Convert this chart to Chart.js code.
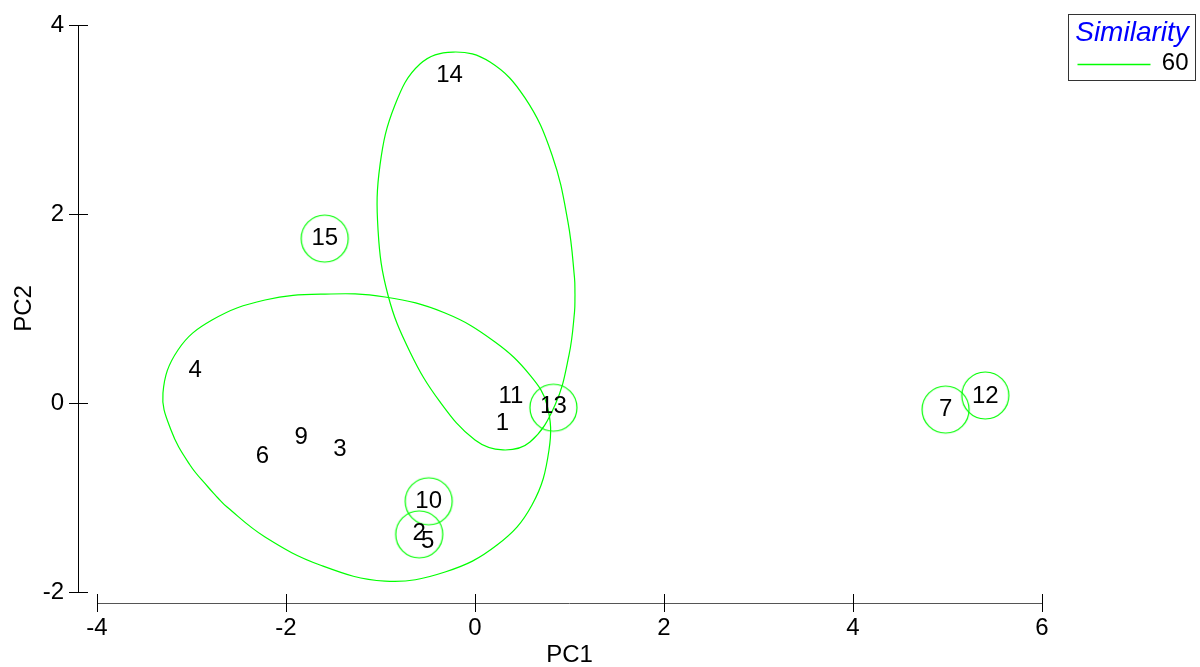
<!DOCTYPE html>
<html>
<head>
<meta charset="utf-8">
<title>PCA - Similarity 60</title>
<script src="https://cdn.jsdelivr.net/npm/chart.js@4.4.1/dist/chart.umd.min.js"></script>
<style>
  html, body { margin: 0; padding: 0; background: #fff; }
  #wrap { width: 1200px; height: 667px; }
</style>
</head>
<body>
<div id="wrap"><canvas id="pca" width="1200" height="667"></canvas></div>
<script>
// Sample scores (labels are drawn centred on the point, no marker)
const sampleLabels = ['1', '2', '3', '4', '5', '6', '7', '9', '10', '11', '12', '13', '14', '15'];
const pc1 = [0.29, -0.59, -1.43, -2.96, -0.50, -2.25, 4.98, -1.84, -0.49, 0.38, 5.40, 0.83, -0.27, -1.59];
const pc2 = [-0.22, -1.38, -0.49, 0.34, -1.46, -0.57, -0.07, -0.36, -1.04, 0.07, 0.07, -0.04, 3.47, 1.74];

// single-sample / small clusters at similarity 60 (drawn as circles)
const circleX = [-1.59, -0.49, -0.59, 0.83, 4.98, 5.40];
const circleY = [1.74, -1.04, -1.39, -0.05, -0.07, 0.08];

// larger cluster outlines (closed: last point = first)
const contourAx = [1.058, 1.053, 0.995, 0.847, 0.582, 0.296, 0.000, -0.370, -0.688, -0.921, -1.026, -1.005, -0.847, -0.582, -0.233, 0.159, 0.529, 0.815, 0.984, 1.053, 1.058];
const contourAy = [1.143, 0.963, 0.508, -0.021, -0.413, -0.497, -0.392, 0.011, 0.540, 1.143, 1.831, 2.519, 3.153, 3.587, 3.714, 3.608, 3.228, 2.624, 1.915, 1.323, 1.143];
const contourBx = [-2.730, -2.624, -2.222, -1.640, -0.952, -0.317, 0.233, 0.603, 0.783, 0.762, 0.582, 0.212, -0.317, -0.952, -1.587, -2.222, -2.783, -3.143, -3.302, -3.217, -3.016, -2.825, -2.730];
const contourBy = [-0.995, -1.101, -1.418, -1.714, -1.884, -1.788, -1.503, -1.079, -0.497, -0.021, 0.296, 0.646, 0.952, 1.122, 1.153, 1.090, 0.878, 0.561, 0.106, -0.286, -0.656, -0.889, -0.995];

const xTicks = [-4, -2, 0, 2, 4, 6];
const yTicks = [-2, 0, 2, 4];
const legendTitle = 'Similarity';
const legendLevel = '60';

const GREEN = '#00ff00';
const FONT = '"Liberation Sans", Arial, sans-serif';

const zip = (xs, ys) => xs.map((v, i) => ({ x: v, y: ys[i] }));

// ring used as point style, so a big radius doesn't eat layout space
function ringImage(r, color, lw) {
    const c = document.createElement('canvas');
    const s = Math.ceil(2 * r + lw + 2);
    c.width = s;
    c.height = s;
    const g = c.getContext('2d');
    g.strokeStyle = color;
    g.lineWidth = lw;
    g.beginPath();
    g.arc(s / 2, s / 2, r, 0, Math.PI * 2);
    g.stroke();
    return c;
}

// axes are drawn detached from the plot area, like the original
const detachedAxes = {
    id: 'detachedAxes',
    afterDraw(chart) {
        const { ctx, chartArea, scales: { x, y } } = chart;
        ctx.save();
        ctx.lineWidth = 1;

        // y axis
        const ax = chartArea.left - 19 + 0.5;
        ctx.strokeStyle = '#000';
        ctx.beginPath();
        ctx.moveTo(ax, Math.round(y.getPixelForValue(yTicks[yTicks.length - 1])));
        ctx.lineTo(ax, Math.round(y.getPixelForValue(yTicks[0])) + 1);
        yTicks.forEach(v => {
            const py = Math.round(y.getPixelForValue(v)) + 0.5;
            ctx.moveTo(chartArea.left - 28, py);
            ctx.lineTo(chartArea.left - 9, py);
        });
        ctx.stroke();

        // x axis
        const ay = chartArea.bottom + 11 + 0.5;
        ctx.strokeStyle = '#555';
        ctx.beginPath();
        ctx.moveTo(Math.round(x.getPixelForValue(xTicks[0])), ay);
        ctx.lineTo(Math.round(x.getPixelForValue(xTicks[xTicks.length - 1])), ay);
        ctx.stroke();
        ctx.strokeStyle = '#000';
        ctx.beginPath();
        xTicks.forEach(v => {
            const px = Math.round(x.getPixelForValue(v)) + 0.5;
            ctx.moveTo(px, chartArea.bottom + 2);
            ctx.lineTo(px, chartArea.bottom + 20);
        });
        ctx.stroke();
        ctx.restore();
    }
};

// sample numbers written at each score
const sampleText = {
    id: 'sampleText',
    afterDatasetsDraw(chart) {
        const meta = chart.getDatasetMeta(3);
        const { ctx } = chart;
        ctx.save();
        ctx.font = '24px ' + FONT;
        ctx.fillStyle = '#000';
        ctx.textAlign = 'center';
        ctx.textBaseline = 'middle';
        meta.data.forEach((pt, i) => {
            ctx.fillText(sampleLabels[i], pt.x, pt.y);
        });
        ctx.restore();
    }
};

// boxed legend top right
const boxLegend = {
    id: 'boxLegend',
    afterDraw(chart) {
        const { ctx, width } = chart;
        const bx = width - 132 + 0.5, by = 14.5, bw = 127, bh = 66;
        ctx.save();
        ctx.strokeStyle = '#333';
        ctx.lineWidth = 1;
        ctx.strokeRect(bx, by, bw, bh);

        ctx.font = 'italic 28px ' + FONT;
        ctx.fillStyle = '#0000ff';
        ctx.textAlign = 'center';
        ctx.textBaseline = 'middle';
        ctx.fillText(legendTitle, bx + bw / 2, by + 19);

        ctx.strokeStyle = GREEN;
        ctx.lineWidth = 1.5;
        ctx.beginPath();
        ctx.moveTo(bx + 9, by + 50);
        ctx.lineTo(bx + 82, by + 50);
        ctx.stroke();

        ctx.font = '24px ' + FONT;
        ctx.fillStyle = '#000';
        ctx.textAlign = 'right';
        ctx.fillText(legendLevel, bx + bw - 7, by + 49);
        ctx.restore();
    }
};

const ctx = document.getElementById('pca').getContext('2d');

const pcaChart = new Chart(ctx, {
    type: 'scatter',
    data: {
        datasets: [
            {
                label: 'cluster A',
                data: zip(contourAx, contourAy),
                showLine: true,
                tension: 0.4,
                borderColor: GREEN,
                borderWidth: 1.2,
                pointRadius: 0,
                fill: false
            },
            {
                label: 'cluster B',
                data: zip(contourBx, contourBy),
                showLine: true,
                tension: 0.4,
                borderColor: GREEN,
                borderWidth: 1.2,
                pointRadius: 0,
                fill: false
            },
            {
                label: 'small clusters',
                data: zip(circleX, circleY),
                pointStyle: ringImage(23.5, GREEN, 1.2),
                pointRadius: 1,
                pointBorderWidth: 0
            },
            {
                label: 'samples',
                data: zip(pc1, pc2),
                pointRadius: 0
            }
        ]
    },
    options: {
        responsive: false,
        animation: false,
        events: [],
        layout: {
            padding: { top: 25, right: 158, left: 0, bottom: 0 }
        },
        plugins: {
            legend: { display: false },
            tooltip: { enabled: false }
        },
        scales: {
            x: {
                type: 'linear',
                min: -4,
                max: 6,
                afterBuildTicks: s => { s.ticks = xTicks.map(v => ({ value: v })); },
                afterFit: s => { s.height = 75; },
                // tick marks are drawn by the plugin; tickLength only spaces the labels
                grid: { display: false, drawTicks: true, tickLength: 22 },
                border: { display: false },
                ticks: {
                    color: '#000',
                    padding: 0,
                    maxRotation: 0,
                    font: { family: FONT, size: 24 }
                },
                title: {
                    display: true,
                    text: 'PC1',
                    color: '#000',
                    padding: { top: 0, bottom: -3 },
                    font: { family: FONT, size: 24 }
                }
            },
            y: {
                type: 'linear',
                min: -2,
                max: 4,
                afterBuildTicks: s => { s.ticks = yTicks.map(v => ({ value: v })); },
                afterFit: s => { s.width = 97; },
                grid: { display: false, drawTicks: true, tickLength: 33 },
                border: { display: false },
                ticks: {
                    color: '#000',
                    padding: 0,
                    font: { family: FONT, size: 24 }
                },
                title: {
                    display: true,
                    text: 'PC2',
                    color: '#000',
                    padding: { top: 10, bottom: 0 },
                    font: { family: FONT, size: 24 }
                }
            }
        }
    },
    plugins: [detachedAxes, sampleText, boxLegend]
});
</script>
</body>
</html>
